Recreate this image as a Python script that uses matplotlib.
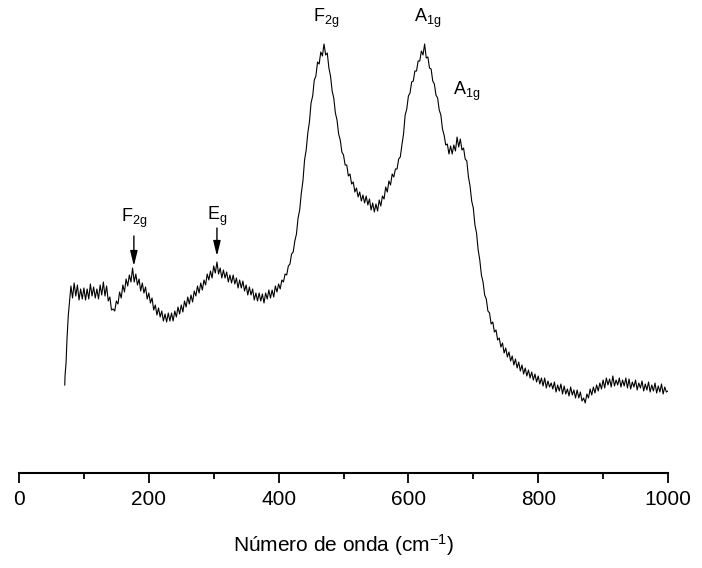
import numpy as np
import matplotlib
matplotlib.use("Agg")
import matplotlib.pyplot as plt

plt.rcParams['font.family'] = ['Liberation Sans', 'DejaVu Sans']
plt.rcParams['mathtext.fontset'] = 'custom'
plt.rcParams['mathtext.rm'] = 'Liberation Sans'
plt.rcParams['mathtext.it'] = 'Liberation Sans'

# leading edge of the spectrum
start_wn = [70.5, 71, 72.5, 74, 76, 78]
start_int = [88, 98, 110, 135, 158, 172]

grid_wn = np.arange(80, 1000.1, 2.5)
grid_int = [
    187, 175, 190, 177, 188, 173, 184, 174,   # 80-97.5
    185, 173, 184, 174, 189, 177, 186, 175,   # 100
    184, 174, 188, 178, 191, 177, 187, 172,   # 120
    176, 163, 164, 162, 172, 169, 181, 175,   # 140
    188, 181, 194, 187, 198, 191, 205, 191,   # 160
    199, 188, 194, 182, 190, 180, 186, 174,   # 180
    180, 170, 175, 163, 168, 158, 165, 156,   # 200
    162, 152, 159, 151, 160, 152, 160, 152,   # 220
    162, 156, 166, 159, 168, 161, 172, 166,   # 240
    176, 169, 178, 171, 182, 177, 187, 180,   # 260
    190, 183, 193, 188, 199, 193, 202, 195,   # 280
    207, 200, 211, 199, 205, 195, 203, 195,   # 300
    201, 191, 198, 190, 198, 189, 195, 185,   # 320
    193, 185, 192, 182, 188, 178, 186, 178,   # 340
    184, 173, 180, 172, 180, 172, 179, 170,   # 360
    180, 174, 183, 175, 183, 176, 187, 181,   # 380
    189, 184, 193, 191, 199, 198, 207, 209,   # 400
    219, 221, 232, 239, 255, 263, 280, 292,   # 420
    313, 323, 340, 351, 370, 377, 393, 397,   # 440
    411, 409, 421, 417, 429, 418, 420, 405,   # 460
    397, 382, 375, 360, 353, 339, 333, 321,   # 480
    318, 308, 308, 297, 299, 289, 291, 281,   # 500
    285, 276, 281, 272, 278, 270, 277, 268,   # 520
    274, 263, 270, 261, 269, 262, 273, 267,   # 540
    277, 274, 286, 281, 292, 288, 299, 296,   # 560
    304, 304, 314, 316, 328, 339, 358, 364,   # 580
    377, 380, 391, 392, 402, 402, 412, 412,   # 600
    422, 418, 429, 415, 416, 405, 404, 392,   # 620
    389, 378, 375, 363, 358, 344, 338, 328,   # 640
    329, 319, 327, 319, 328, 322, 336, 326,   # 660
    334, 323, 325, 314, 312, 296, 287, 272,   # 680
    265, 248, 240, 223, 213, 198, 191, 178,   # 700
    174, 162, 160, 149, 151, 141, 143, 133,   # 720
    135, 126, 130, 120, 125, 116, 121, 112,   # 740
    117, 108, 114, 105, 111, 102, 108, 99,    # 760
    105, 97, 103, 95, 101, 93, 99, 91,        # 780
    97, 89, 95, 87, 95, 85, 92, 86,           # 800
    90, 84, 91, 81, 88, 82, 89, 79,           # 820
    87, 79, 84, 77, 86, 78, 83, 75,           # 840
    83, 75, 81, 72, 75, 70, 79, 75,           # 860
    84, 78, 86, 80, 88, 82, 90, 84,           # 880
    93, 85, 95, 88, 94, 86, 97, 87,           # 900
    93, 88, 95, 86, 93, 87, 95, 85,           # 920
    94, 84, 91, 86, 93, 83, 90, 85,           # 940
    92, 82, 89, 83, 91, 81, 88, 82,           # 960
    90, 80, 87, 81, 89, 79, 86, 81,           # 980
    82,                                       # 1000
]

wavenumber = np.concatenate([start_wn, grid_wn])
intensity = np.concatenate([start_int, grid_int])

# peak annotations
ann_labels = [r'F$_{\mathregular{2g}}$', r'E$_{\mathregular{g}}$',
              r'F$_{\mathregular{2g}}$', r'A$_{\mathregular{1g}}$', r'A$_{\mathregular{1g}}$']
ann_x = [177, 305, 473, 630, 690]
ann_text_y = [255, 257, 455, 455, 382]
ann_arrow_from = [237, 245, None, None, None]
ann_arrow_to = [207, 217, None, None, None]

fig = plt.figure(figsize=(7.02, 5.68), dpi=100)
ax = fig.add_axes([19/702, (568-473)/568, 649/702, (473-5)/568])
ax.plot(wavenumber, intensity, color='black', lw=0.8)

ax.set_xlim(0, 1000)
ax.set_ylim(0, 468)
for s in ['top', 'right', 'left']:
    ax.spines[s].set_visible(False)
ax.spines['bottom'].set_linewidth(1.5)
ax.set_yticks([])
ax.set_xticks(np.arange(0, 1001, 200))
ax.set_xticks(np.arange(100, 1000, 200), minor=True)
ax.tick_params(axis='x', which='major', length=7, width=1.3, pad=5, labelsize=15)
ax.tick_params(axis='x', which='minor', length=4.5, width=1.3)
ax.set_xlabel(r'Número de onda (cm$^{\mathregular{-1}}$)', fontsize=15, labelpad=17)

for lab, x, ty, af, at in zip(ann_labels, ann_x, ann_text_y, ann_arrow_from, ann_arrow_to):
    ax.text(x, ty, lab, ha='center', va='center', fontsize=13)
    if af is not None:
        ax.annotate('', xy=(x, at), xytext=(x, af),
                    arrowprops=dict(arrowstyle='-|>,head_length=0.9,head_width=0.22',
                                    color='black', lw=1.0, shrinkA=0, shrinkB=0))

fig.savefig('out.png', dpi=100)
